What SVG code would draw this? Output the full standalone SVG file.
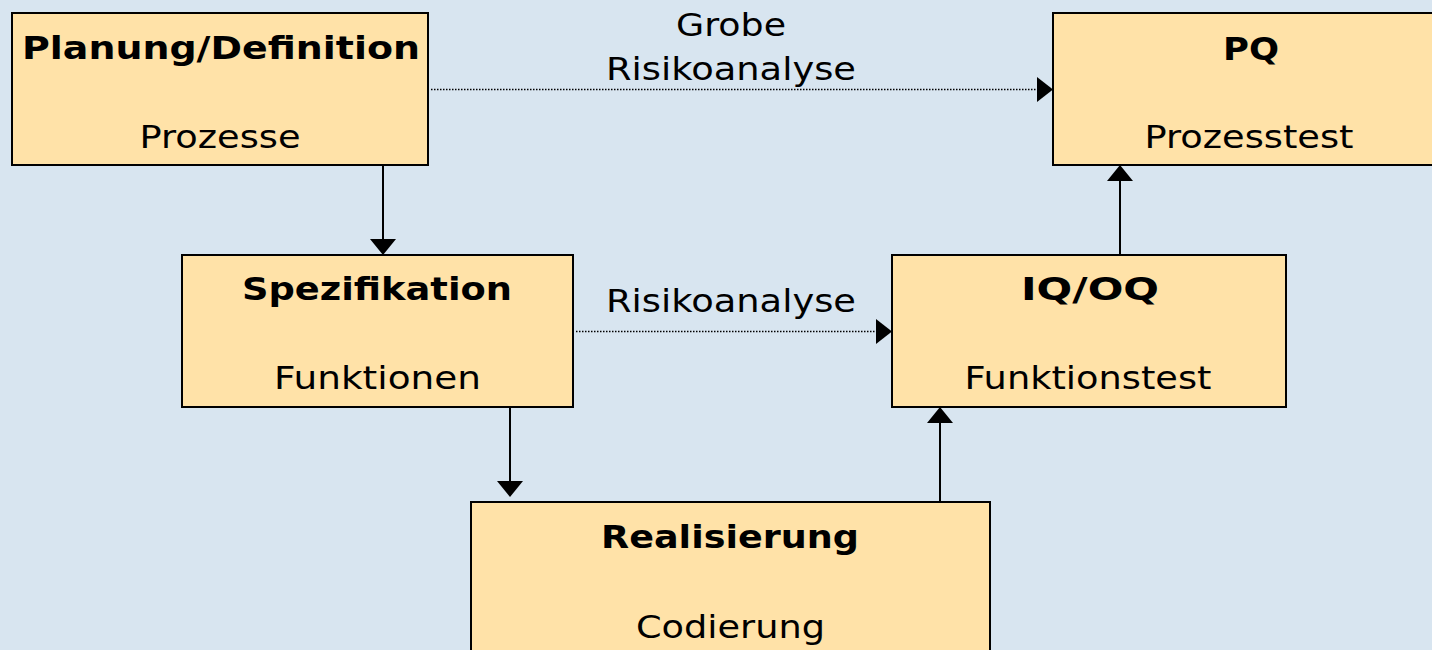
<svg xmlns="http://www.w3.org/2000/svg" width="1432" height="650" viewBox="0 0 1432 650">
  <defs>
    <style>
      .box { fill: #ffe2a8; stroke: #000; stroke-width: 2; }
      .t { font-family: "DejaVu Sans", Verdana, sans-serif; font-size: 32px; fill: #000; text-anchor: middle; }
      .b { font-weight: bold; }
      .solid { stroke: #000; stroke-width: 2; fill: none; }
      .dot { stroke: #000; stroke-width: 1.3; stroke-dasharray: 1.5 1.5; fill: none; }
      .head { fill: #000; }
    </style>
  </defs>

  <rect width="1432" height="650" fill="#d8e5f0"/>

  <!-- connectors -->
  <g id="connectors">
    <!-- Planung -> Spezifikation -->
    <line class="solid" x1="383" y1="165" x2="383" y2="240"/>
    <polygon class="head" points="370,239 396,239 383,255"/>
    <!-- Spezifikation -> Realisierung -->
    <line class="solid" x1="510" y1="407" x2="510" y2="482"/>
    <polygon class="head" points="497,481 523,481 510,497"/>
    <!-- Realisierung -> IQ/OQ -->
    <line class="solid" x1="940" y1="502" x2="940" y2="422"/>
    <polygon class="head" points="927,423 953,423 940,407"/>
    <!-- IQ/OQ -> PQ -->
    <line class="solid" x1="1120" y1="255" x2="1120" y2="180"/>
    <polygon class="head" points="1107,181 1133,181 1120,165"/>
    <!-- Grobe Risikoanalyse: Planung -> PQ -->
    <line class="dot" x1="431" y1="89.5" x2="1038" y2="89.5"/>
    <polygon class="head" points="1037,77 1037,102 1053,89.5"/>
    <!-- Risikoanalyse: Spezifikation -> IQ/OQ -->
    <line class="dot" x1="576" y1="331.5" x2="877" y2="331.5"/>
    <polygon class="head" points="876,319 876,344 892,331.5"/>
    <text class="t" x="731" y="36" textLength="110" lengthAdjust="spacingAndGlyphs">Grobe</text>
    <text class="t" x="731" y="80" textLength="250" lengthAdjust="spacingAndGlyphs">Risikoanalyse</text>
    <text class="t" x="731" y="312" textLength="250" lengthAdjust="spacingAndGlyphs">Risikoanalyse</text>
  </g>

  <g id="node-planung">
    <rect class="box" x="12" y="13" width="416" height="152"/>
    <text class="t b" x="221" y="59" textLength="398" lengthAdjust="spacingAndGlyphs">Planung/Definition</text>
    <text class="t" x="220" y="148" textLength="161" lengthAdjust="spacingAndGlyphs">Prozesse</text>
  </g>

  <g id="node-pq">
    <rect class="box" x="1053" y="13" width="400" height="152"/>
    <text class="t b" x="1251" y="60" textLength="56" lengthAdjust="spacingAndGlyphs">PQ</text>
    <text class="t" x="1249" y="148" textLength="209" lengthAdjust="spacingAndGlyphs">Prozesstest</text>
  </g>

  <g id="node-spezifikation">
    <rect class="box" x="182" y="255" width="391" height="152"/>
    <text class="t b" x="377" y="300" textLength="270" lengthAdjust="spacingAndGlyphs">Spezifikation</text>
    <text class="t" x="377.5" y="389" textLength="207" lengthAdjust="spacingAndGlyphs">Funktionen</text>
  </g>

  <g id="node-iqoq">
    <rect class="box" x="892" y="255" width="394" height="152"/>
    <text class="t b" x="1090" y="300" textLength="138" lengthAdjust="spacingAndGlyphs">IQ/OQ</text>
    <text class="t" x="1088" y="389" textLength="247" lengthAdjust="spacingAndGlyphs">Funktionstest</text>
  </g>

  <g id="node-realisierung">
    <rect class="box" x="471" y="502" width="519" height="170"/>
    <text class="t b" x="730" y="548" textLength="258" lengthAdjust="spacingAndGlyphs">Realisierung</text>
    <text class="t" x="730.5" y="638" textLength="189" lengthAdjust="spacingAndGlyphs">Codierung</text>
  </g>
</svg>
